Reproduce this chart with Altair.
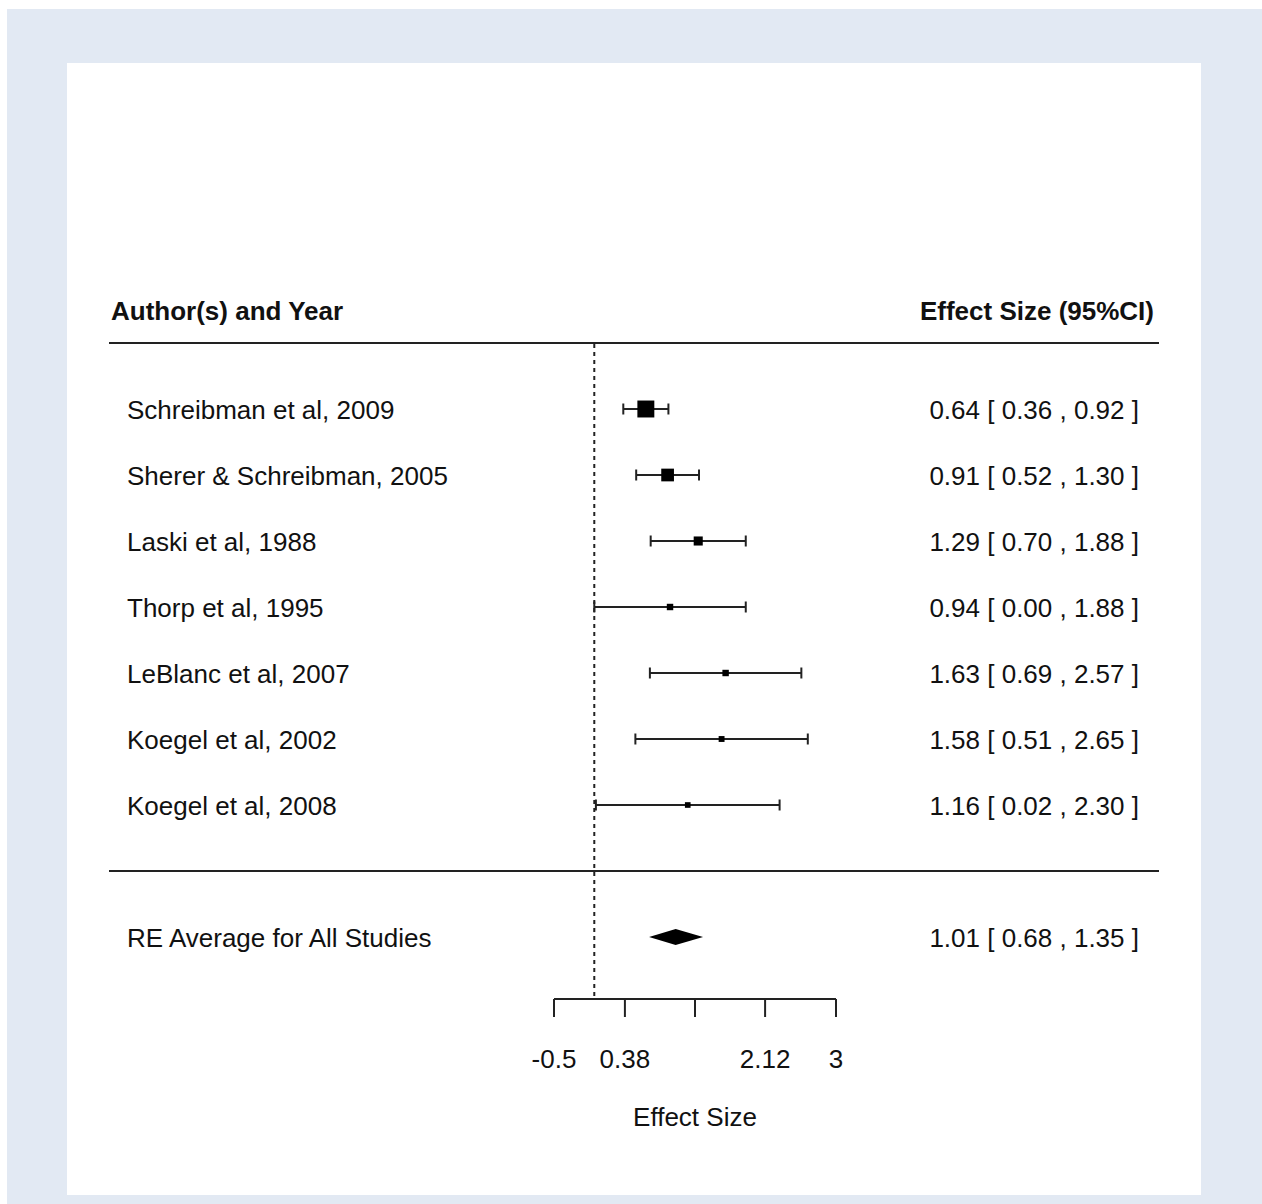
import altair as alt
import pandas as pd

# ---- data ----
authors = ["Schreibman et al, 2009", "Sherer & Schreibman, 2005", "Laski et al, 1988",
           "Thorp et al, 1995", "LeBlanc et al, 2007", "Koegel et al, 2002", "Koegel et al, 2008"]
estimates = [0.64, 0.91, 1.29, 0.94, 1.63, 1.58, 1.16]
ci_low = [0.36, 0.52, 0.70, 0.00, 0.69, 0.51, 0.02]
ci_high = [0.92, 1.30, 1.88, 1.88, 2.57, 2.65, 2.30]
rows = [7, 6, 5, 4, 3, 2, 1]

summary_label = ["RE Average for All Studies"]
summary_est = [1.01]
summary_low = [0.68]
summary_high = [1.35]
summary_row = [-1]

tick_values = [-0.5, 0.38, 1.25, 2.12, 3]
tick_labels = ["-0.5", "0.38", "", "2.12", "3"]

header_left = "Author(s) and Year"
header_right = "Effect Size (95%CI)"
x_title = "Effect Size"

# ---- derived tables ----
se = [(h - l) / (2 * 1.96) for l, h in zip(ci_low, ci_high)]
wi = [1 / s for s in se]
wsum = sum(wi)
ps = [w / wsum for w in wi]
pmin, pmax = min(ps), max(ps)
cex = [(p - pmin) / (pmax - pmin) + 0.5 for p in ps]  # metafor-style point sizes
BASE = 11.3  # px of square side per cex unit
studies = pd.DataFrame({
    "author": authors, "est": estimates, "lo": ci_low, "hi": ci_high, "row": rows,
    "size": [(c * BASE) ** 2 for c in cex],
    "annot": [f"{e:.2f} [ {l:.2f} , {h:.2f} ]" for e, l, h in zip(estimates, ci_low, ci_high)],
})
summary = pd.DataFrame({
    "label": summary_label, "est": summary_est, "lo": summary_low, "hi": summary_high,
    "row": summary_row,
    "annot": [f"{e:.2f} [ {l:.2f} , {h:.2f} ]" for e, l, h in zip(summary_est, summary_low, summary_high)],
})
H = 8 / 66  # half height of the diamond in row units
diamond = pd.DataFrame({
    "x": [summary_low[0], summary_est[0], summary_high[0]],
    "ytop": [summary_row[0], summary_row[0] + H, summary_row[0]],
    "ybot": [summary_row[0], summary_row[0] - H, summary_row[0]],
})
ticks = pd.DataFrame({"v": tick_values, "lab": tick_labels})
axis_span = pd.DataFrame({"a": [min(tick_values)], "b": [max(tick_values)], "mid": [(min(tick_values) + max(tick_values)) / 2]})
hl = pd.DataFrame({"row": [8, 0]})
hdr = pd.DataFrame({"row": [8.5]})
ref = pd.DataFrame({"x": [0]})
one = pd.DataFrame({"a": [0]})

W, Hh = 1262, 1204
PXU = 282 / 3.5
x0 = -0.5 - 554 / PXU
xscale = alt.Scale(domain=[x0, x0 + W / PXU], nice=False, zero=False)
yscale = alt.Scale(domain=[(871 - Hh) / 66, 871 / 66], nice=False, zero=False)

FONT = "Liberation Sans"
FS = 26
INK = "#111111"
LINE = "#222222"
DY = 2

def X(f):
    return alt.X(f, type="quantitative", scale=xscale, axis=None)

def Y(f):
    return alt.Y(f, type="quantitative", scale=yscale, axis=None)

bg_outer = alt.Chart(one).mark_rect(color="#E2E9F3").encode(
    x=alt.value(7), x2=alt.value(1262), y=alt.value(9), y2=alt.value(1204))
bg_inner = alt.Chart(one).mark_rect(color="#FFFFFF").encode(
    x=alt.value(67), x2=alt.value(1201), y=alt.value(63), y2=alt.value(1195))

hlines = alt.Chart(hl).mark_rule(color=LINE, strokeWidth=2).encode(
    y=Y("row"), x=alt.value(109), x2=alt.value(1159))

refline = alt.Chart(ref).mark_rule(color=LINE, strokeWidth=2, strokeDash=[4, 4]).encode(
    x=X("x"), y=alt.value(344), y2=alt.value(999))

ci = alt.Chart(studies).mark_rule(color=LINE, strokeWidth=2).encode(
    x=X("lo"), x2="hi", y=Y("row"))

caps = alt.Chart(studies).transform_fold(["lo", "hi"], as_=["k", "xv"]).mark_rule(
    color=LINE, strokeWidth=2, yOffset=-5.5, y2Offset=5.5).encode(
    x=X("xv"), y=Y("row"), y2="row")

squares = alt.Chart(studies).mark_square(color="black", filled=True, opacity=1).encode(
    x=X("est"), y=Y("row"), size=alt.Size("size:Q", scale=None, legend=None))

diam = alt.Chart(diamond).mark_area(color="black").encode(
    x=X("x"), y=Y("ytop"), y2="ybot")

def txt(data, align, xpos, field, bold=False):
    kw = dict(align=align, baseline="middle", font=FONT, fontSize=FS, color=INK, dy=DY)
    if bold:
        kw["fontWeight"] = "bold"
    return alt.Chart(data).mark_text(**kw).encode(x=alt.value(xpos), y=Y("row"), text=field)

labels = txt(studies, "left", 127, "author")
annots = txt(studies, "right", 1139, "annot")
slabel = txt(summary, "left", 127, "label")
sannot = txt(summary, "right", 1139, "annot")

hdr_l = alt.Chart(hdr).mark_text(align="left", baseline="middle", font=FONT, fontSize=FS, fontWeight="bold",
                                 color=INK, dy=DY, text=header_left).encode(x=alt.value(111), y=Y("row"))
hdr_r = alt.Chart(hdr).mark_text(align="right", baseline="middle", font=FONT, fontSize=FS, fontWeight="bold",
                                 color=INK, dy=DY, text=header_right).encode(x=alt.value(1154), y=Y("row"))

axline = alt.Chart(axis_span).mark_rule(color=LINE, strokeWidth=2).encode(
    x=X("a"), x2="b", y=alt.value(999))
axticks = alt.Chart(ticks).mark_rule(color=LINE, strokeWidth=2).encode(
    x=X("v"), y=alt.value(999), y2=alt.value(1017))
axlabels = alt.Chart(ticks).mark_text(align="center", baseline="middle", font=FONT, fontSize=FS, color=INK).encode(
    x=X("v"), y=alt.value(1060), text="lab")
axtitle = alt.Chart(axis_span).mark_text(align="center", baseline="middle", font=FONT, fontSize=FS, color=INK,
                                         text=x_title).encode(x=X("mid"), y=alt.value(1118))

chart = alt.layer(
    bg_outer, bg_inner, hlines, refline, ci, caps, squares, diam,
    labels, annots, slabel, sannot, hdr_l, hdr_r, axline, axticks, axlabels, axtitle,
).properties(
    width=W, height=Hh, padding=0, autosize=alt.AutoSizeParams(type="none"), background="#FFFFFF",
).configure_view(stroke=None)

chart.save("out.html", embed_options={"renderer": "svg", "actions": False})
